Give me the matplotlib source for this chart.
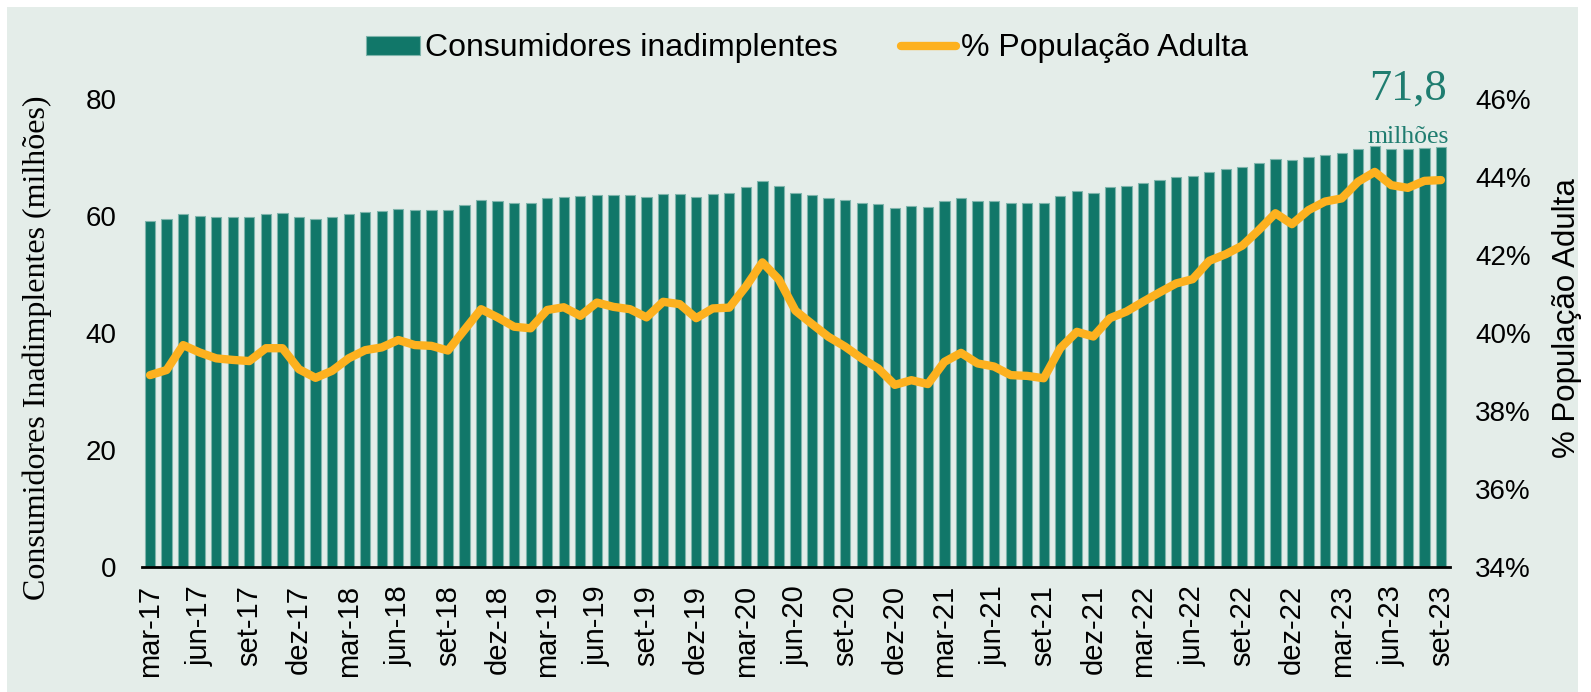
import numpy as np
import matplotlib.pyplot as plt
from matplotlib.patches import Rectangle

# ------------------------------
# DADOS (mar-17 a set-23, mensal)
# ------------------------------
meses = ['jan', 'fev', 'mar', 'abr', 'mai', 'jun', 'jul', 'ago', 'set', 'out', 'nov', 'dez']
rotulos = []
for ano in range(17, 24):
    for m in meses:
        rotulos.append(f'{m}-{ano}')
rotulos = rotulos[2:2 + 79]   # mar-17 ... set-23

# consumidores inadimplentes (milhões)
inadimplentes = [
    59.1, 59.5, 60.3, 60.0, 59.8, 59.8, 59.9, 60.4, 60.5, 59.8,   # mar-17 .. dez-17
    59.4, 59.8, 60.3, 60.7, 60.9, 61.2, 61.0, 61.0, 61.0, 61.8, 62.8, 62.5,   # 2018
    62.2, 62.2, 63.0, 63.2, 63.4, 63.5, 63.5, 63.5, 63.2, 63.8, 63.8, 63.3,   # 2019
    63.8, 63.9, 64.9, 65.9, 65.2, 64.0, 63.5, 63.1, 62.8, 62.3, 62.0, 61.4,   # 2020
    61.7, 61.5, 62.6, 63.0, 62.6, 62.5, 62.3, 62.3, 62.2, 63.4, 64.3, 64.0,   # 2021
    64.9, 65.1, 65.7, 66.2, 66.6, 66.8, 67.6, 68.0, 68.4, 69.0, 69.8, 69.5,   # 2022
    70.1, 70.5, 70.7, 71.5, 71.9, 71.5, 71.4, 71.7, 71.8,                     # 2023
]

# % da população adulta
pct_adulta = [
    38.92, 39.05, 39.69, 39.50, 39.35, 39.31, 39.28, 39.61, 39.61, 39.07,
    38.85, 39.03, 39.35, 39.56, 39.63, 39.82, 39.69, 39.67, 39.55, 40.08, 40.61, 40.40,
    40.16, 40.12, 40.59, 40.66, 40.44, 40.78, 40.67, 40.61, 40.40, 40.80, 40.74, 40.38,
    40.63, 40.65, 41.19, 41.81, 41.37, 40.57, 40.23, 39.90, 39.65, 39.35, 39.09, 38.67,
    38.79, 38.69, 39.26, 39.49, 39.22, 39.14, 38.92, 38.90, 38.84, 39.61, 40.03, 39.91,
    40.38, 40.55, 40.80, 41.04, 41.27, 41.38, 41.85, 42.02, 42.24, 42.64, 43.07, 42.79,
    43.15, 43.37, 43.45, 43.88, 44.13, 43.79, 43.72, 43.90, 43.92,
]

ultimo_rotulo = '71,8'

# ------------------------------
# CORES / FONTES
# ------------------------------
COR_FUNDO = '#e4ede9'
COR_BARRA = '#117769'
COR_BORDA = '#7fb5ac'
COR_LINHA = '#fdb11f'
COR_TEXTO_VERDE = '#1f7d70'

SANS = ['Liberation Sans', 'DejaVu Sans']
SERIF = ['Liberation Serif', 'DejaVu Serif']
plt.rcParams['font.family'] = SANS

fig = plt.figure(figsize=(15.91, 6.92), dpi=100)
fig.patch.set_facecolor('white')
fig.patches.append(Rectangle((7 / 1591, 0), 1571 / 1591, 1 - 7 / 692,
                             transform=fig.transFigure, facecolor=COR_FUNDO,
                             edgecolor='none', zorder=-10))

ax = fig.add_axes([0.0891, 0.1806, 0.8223, 0.6764])
ax.set_facecolor('none')
ax2 = ax.twinx()

x = np.arange(len(inadimplentes))
barras = ax.bar(x, inadimplentes, width=0.62, color=COR_BARRA,
                edgecolor=COR_BORDA, linewidth=0.8,
                label='Consumidores inadimplentes', zorder=2)
linha, = ax2.plot(x, pct_adulta, color=COR_LINHA, linewidth=6,
                  solid_capstyle='round', solid_joinstyle='round',
                  label='% População Adulta', zorder=3)

ax.set_xlim(-0.5, len(x) - 0.45)
ax.set_ylim(0, 80)
ax2.set_ylim(34, 46)

ax.set_yticks([0, 20, 40, 60, 80])
ax2.set_yticks([34, 36, 38, 40, 42, 44, 46])
ax2.set_yticklabels([f'{v}%' for v in range(34, 47, 2)])

ax.set_xticks(x[::3])
ax.set_xticklabels(rotulos[::3], rotation=90, fontsize=21)

ax.tick_params(axis='x', length=0, pad=13)
ax.tick_params(axis='y', length=0, pad=18, labelsize=20)
ax2.tick_params(axis='y', length=0, pad=18, labelsize=20)

for a in (ax, ax2):
    for lado in ('left', 'right', 'top', 'bottom'):
        a.spines[lado].set_visible(False)
ax.spines['bottom'].set_visible(True)
ax.spines['bottom'].set_linewidth(2)
ax.spines['bottom'].set_color('black')

ax.set_ylabel('Consumidores Inadimplentes (milhões)', family=SERIF, fontsize=23)
ax.yaxis.set_label_coords(-0.0686, 0.468)
ax2.set_ylabel('% População Adulta', fontsize=22.5)
ax2.yaxis.set_label_coords(1.078, 0.532)

# rótulo do último valor
ax.annotate(ultimo_rotulo, xy=(x[-1], inadimplentes[-1]), xytext=(4, 34),
            textcoords='offset points', ha='right', va='baseline',
            family=SERIF, fontsize=32, color=COR_TEXTO_VERDE)
ax.annotate('milhões', xy=(x[-1], inadimplentes[-1]), xytext=(6, 2.5),
            textcoords='offset points', ha='right', va='baseline',
            family=SERIF, fontsize=18.5, color=COR_TEXTO_VERDE)

fig.legend(handles=[barras, linha], loc='center', bbox_to_anchor=(0.507, 0.93),
           ncol=2, frameon=False, fontsize=23, handlelength=1.7,
           handleheight=0.55, handletextpad=0.15, columnspacing=2.0)

fig.savefig('out.png', dpi=100, facecolor=fig.get_facecolor())
